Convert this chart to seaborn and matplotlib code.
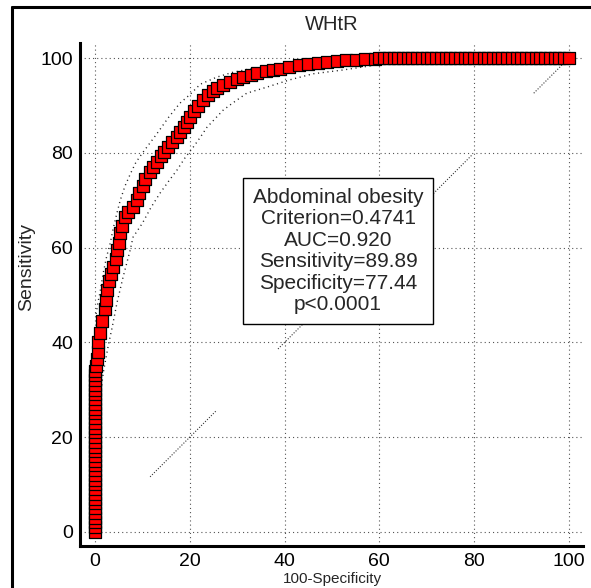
import matplotlib
matplotlib.use("Agg")
import matplotlib.pyplot as plt
from matplotlib.lines import Line2D
from matplotlib.ticker import MultipleLocator
import seaborn as sns

# ROC points (100-Specificity, Sensitivity)
stack_y = [0, 1, 2, 3, 4, 5, 6, 7, 8, 9, 10, 11, 12, 13, 14, 15, 16, 17,
           18, 19, 20, 21, 22, 23, 24, 25, 26, 27, 28, 29, 30, 31, 32, 33, 34]
curve_x = [0.2, 0.4, 0.5, 0.7, 1.0, 1.5, 2.0, 2.3, 2.6, 3.0, 3.3, 3.8, 4.3, 4.6,
           5.0, 5.3, 5.6, 6.3, 7.0, 8.0, 8.8, 9.2, 10.0, 10.6, 11.5, 12.2, 13.0,
           13.8, 14.6, 15.4, 16.3, 17.3, 18.0, 18.7, 19.4, 20.0, 20.8, 21.8,
           22.8, 23.8, 24.8, 25.7, 27.0, 28.5, 30.0, 31.2, 32.8, 34.2, 36.0,
           37.5, 39.0, 41.0, 43.0, 45.0, 47.0, 49.0, 51.0, 53.0, 55.0, 57.0,
           59.0, 60.0]
curve_y = [35, 36.5, 38, 40, 42, 44.5, 47, 49, 51, 53, 54.5, 56, 57.5, 59.5,
           61, 63, 64.5, 66.5, 67.5, 68.5, 70, 71.5, 73, 74.5, 76, 77, 78,
           79.3, 80.2, 81.2, 82.3, 83.3, 84.4, 85.4, 86.5, 87.6, 88.8, 90,
           91.2, 92.2, 93, 93.7, 94.4, 95, 95.5, 96, 96.4, 96.8, 97.2,
           97.5, 97.8, 98.1, 98.5, 98.8, 99, 99.2, 99.4, 99.6, 99.7, 99.8,
           99.9, 100]
flat_x = [61, 62, 63, 64, 65, 66, 67, 68, 69, 70, 71, 72, 73, 74, 75, 76, 77,
          78, 79, 80, 81, 82, 83, 84, 85, 86, 87, 88, 89, 90, 91, 92, 93, 94,
          95, 96, 97, 98, 99, 100]

# confidence bands
upper_x = [0.2, 0.6, 1.0, 1.7, 2.4, 3.2, 3.8, 4.6, 5.3, 6.3, 7.4, 8.6, 10, 11.5,
           13, 15.5, 17.9, 20, 22.2, 25.7, 29, 32.5, 36.3, 40, 44, 48, 52]
upper_y = [46, 48.5, 50.4, 54.6, 58, 61, 64, 67.3, 70, 73, 75.5, 78, 80, 82,
           84, 87.5, 90.5, 92.3, 94.5, 96, 97, 97.7, 98.2, 98.7, 99.2, 99.6, 100]
lower_x = [0.5, 1.0, 1.7, 2.1, 2.8, 3.6, 4.6, 5.9, 7.4, 8.0, 10, 11.8, 13.7,
           15.5, 17.3, 19, 20.7, 22.2, 23.6, 25.3, 27, 29, 32, 36.3, 41, 46,
           52.3, 58.9, 62, 66]
lower_y = [20, 28, 33.5, 35.7, 39.5, 43.2, 48.3, 53.8, 59.5, 62.2, 65.2, 68.5,
           71.5, 74, 76.4, 79, 81.2, 83.3, 85.4, 87.2, 89, 90.5, 92.6, 93.9,
           95.4, 96.7, 97.5, 98.5, 99.2, 100]

stats = ["Abdominal obesity", "Criterion=0.4741", "AUC=0.920",
         "Sensitivity=89.89", "Specificity=77.44", "p<0.0001"]

sns.set_style("white")
plt.rcParams["font.family"] = ["Liberation Sans", "DejaVu Sans"]
plt.rcParams["lines.scale_dashes"] = False

fig = plt.figure(figsize=(5.91, 5.88), dpi=100)
ax = fig.add_axes([80 / 591, 42 / 588, 503 / 591, 503 / 588])

roc_x = [0] * len(stack_y) + curve_x + flat_x
roc_y = stack_y + curve_y + [100] * len(flat_x)

# diagonal reference line y=x, drawn as groups of fine dots
# (agg can't hold a long enough dash list, so one short piece per group)
period, piece = 27, 14
for k in range(4):
    a = 11.6 + period * k
    b = min(a + piece, 100)
    ax.plot([a, b], [a, b], color="#333333", lw=0.8,
            linestyle=(0, (0.8, 1.2)), zorder=1)

sns.lineplot(x=upper_x, y=upper_y, sort=False, estimator=None, ax=ax,
             color="#222222", lw=1.0, linestyle=(0, (0.8, 2.6)), zorder=2)
sns.lineplot(x=lower_x, y=lower_y, sort=False, estimator=None, ax=ax,
             color="#222222", lw=1.0, linestyle=(0, (0.8, 2.6)), zorder=2)

sns.scatterplot(x=roc_x, y=roc_y, marker="s", s=78, color="#ff0000",
                edgecolor="black", linewidth=0.9, ax=ax, zorder=3,
                legend=False)

ax.set_xlim(-3.2, 103)
ax.set_ylim(-3, 103.2)
ax.xaxis.set_major_locator(MultipleLocator(20))
ax.yaxis.set_major_locator(MultipleLocator(20))
ax.xaxis.set_minor_locator(MultipleLocator(5))
ax.yaxis.set_minor_locator(MultipleLocator(5))
ax.grid(True, which="major", color="#555555", lw=0.8, linestyle=(0, (0.8, 2.2)))
ax.set_axisbelow(True)

for s in ["top", "right"]:
    ax.spines[s].set_visible(False)
for s in ["left", "bottom"]:
    ax.spines[s].set_linewidth(2.2)
    ax.spines[s].set_color("black")

ax.tick_params(which="major", direction="in", length=10, width=2.2,
               labelsize=14, pad=5, colors="black")
ax.tick_params(which="minor", direction="in", length=5, width=1.1)
ax.set_xlabel("")
ax.set_ylabel("")

ax.text(51.3, 59.3, "\n".join(stats), ha="center", va="center", fontsize=15,
        linespacing=1.17, zorder=5,
        bbox=dict(boxstyle="square,pad=0.45", facecolor="white",
                  edgecolor="black", lw=1.0))

fig.text(332 / 591, 1 - 24 / 588, "WHtR", ha="center", va="center", fontsize=14.5)
fig.text(27 / 591, 1 - 267 / 588, "Sensitivity", ha="center", va="center",
         rotation=90, fontsize=14)
fig.text(332 / 591, 1.5 / 588, "100-Specificity", ha="center", va="bottom",
         fontsize=11)

# outer frame of the screenshot
fig.add_artist(Line2D([12 / 591, 1], [1 - 7 / 588, 1 - 7 / 588],
                      transform=fig.transFigure, color="black", lw=2.2))
fig.add_artist(Line2D([12 / 591, 12 / 591], [0, 1 - 7 / 588],
                      transform=fig.transFigure, color="black", lw=2.2))

fig.savefig("out.png", dpi=100)
